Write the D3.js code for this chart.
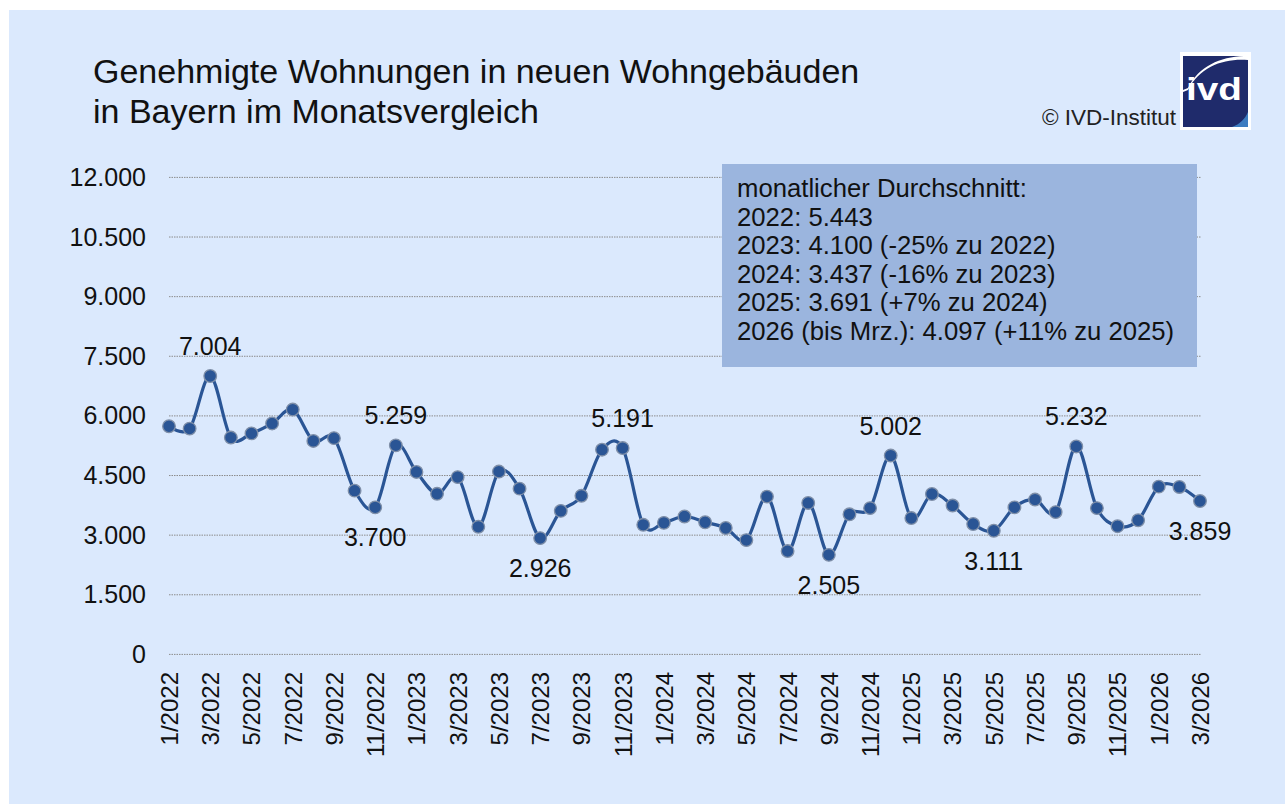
<!DOCTYPE html>
<html>
<head>
<meta charset="utf-8">
<script src="https://cdn.jsdelivr.net/npm/d3@7"></script>
<style>
  body { margin: 0; background: #ffffff; }
  svg { display: block; font-family: "Liberation Sans", Arial, sans-serif; }
</style>
</head>
<body>
<svg id="chart" width="1285" height="804"></svg>
<script>
// months (Jan 2022 - Mar 2026)
const months = [
    "1/2022","2/2022","3/2022","4/2022","5/2022","6/2022","7/2022","8/2022","9/2022","10/2022","11/2022","12/2022",
    "1/2023","2/2023","3/2023","4/2023","5/2023","6/2023","7/2023","8/2023","9/2023","10/2023","11/2023","12/2023",
    "1/2024","2/2024","3/2024","4/2024","5/2024","6/2024","7/2024","8/2024","9/2024","10/2024","11/2024","12/2024",
    "1/2025","2/2025","3/2025","4/2025","5/2025","6/2025","7/2025","8/2025","9/2025","10/2025","11/2025","12/2025",
    "1/2026","2/2026","3/2026"
];

// genehmigte Wohnungen pro Monat
const approvals = [
    5740, 5680, 7004, 5455, 5560, 5810, 6160, 5370, 5440, 4120, 3700, 5259,
    4590, 4040, 4460, 3210, 4600, 4170, 2926, 3610, 3990, 5150, 5191, 3260,
    3310, 3470, 3325, 3180, 2875, 3970, 2600, 3810, 2505, 3525, 3680, 5002,
    3430, 4035, 3745, 3280, 3111, 3700, 3895, 3580, 5232, 3680, 3225, 3375,
    4220, 4212, 3859
];

// which points get a value label and where
const labelled = [
    { month: "3/2022", pos: "above" },
    { month: "11/2022", pos: "below" },
    { month: "12/2022", pos: "above" },
    { month: "7/2023", pos: "below" },
    { month: "11/2023", pos: "above" },
    { month: "9/2024", pos: "below" },
    { month: "12/2024", pos: "above" },
    { month: "5/2025", pos: "below" },
    { month: "9/2025", pos: "above" },
    { month: "3/2026", pos: "below" }
];

const yTicks = [0, 1500, 3000, 4500, 6000, 7500, 9000, 10500, 12000];

const titleLines = ["Genehmigte Wohnungen in neuen Wohngebäuden", "in Bayern im Monatsvergleich"];

const boxLines = [
    "monatlicher Durchschnitt:",
    "2022: 5.443",
    "2023: 4.100 (-25% zu 2022)",
    "2024: 3.437 (-16% zu 2023)",
    "2025: 3.691 (+7% zu 2024)",
    "2026 (bis Mrz.): 4.097 (+11% zu 2025)"
];

const de = d3.formatLocale({ decimal: ",", thousands: ".", grouping: [3], currency: ["", " €"] });
const fmt = de.format(",.0f");

const svg = d3.select("#chart");

// background panel
svg.append("rect")
    .attr("x", 9).attr("y", 10)
    .attr("width", 1276).attr("height", 794)
    .attr("fill", "#dbe9fd");

// title
svg.append("text")
    .attr("x", 93).attr("y", 83)
    .attr("font-size", 34)
    .attr("fill", "#111")
    .selectAll("tspan")
    .data(titleLines)
    .join("tspan")
    .attr("x", 93)
    .attr("dy", (d, i) => i === 0 ? 0 : 40)
    .text(d => d);

// copyright
svg.append("text")
    .attr("x", 1176).attr("y", 125)
    .attr("text-anchor", "end")
    .attr("font-size", 22.5)
    .attr("fill", "#222")
    .text("© IVD-Institut");

// logo
const logo = svg.append("g");
logo.append("rect").attr("x", 1180).attr("y", 52).attr("width", 71).attr("height", 78).attr("fill", "#ffffff");
logo.append("rect").attr("x", 1183).attr("y", 56).attr("width", 65).attr("height", 71).attr("fill", "#1f2b6b");
logo.append("path")
    .attr("d", "M1183,56 L1248,56 L1248,60 C1225,58 1200,66 1188,90 L1183,92 Z")
    .attr("fill", "#ffffff");
logo.append("path")
    .attr("d", "M1183,56 L1244,56 C1220,57 1199,66 1188,88 L1183,90 Z")
    .attr("fill", "#1f2b6b");
logo.append("path")
    .attr("d", "M1248,112 L1248,127 L1232,127 C1240,124 1245,119 1248,112 Z")
    .attr("fill", "#3d7cc0");
logo.append("text")
    .attr("x", 1214).attr("y", 100)
    .attr("text-anchor", "middle")
    .attr("font-size", 31)
    .attr("font-weight", "bold")
    .attr("fill", "#ffffff")
    .attr("textLength", 56)
    .attr("lengthAdjust", "spacingAndGlyphs")
    .text("ivd");

// scales
const x = d3.scalePoint().domain(months).range([169, 1200]);
const y = d3.scaleLinear().domain([0, 12000]).range([654.4, 177.4]);

// grid lines
svg.append("g")
    .selectAll("line")
    .data(yTicks)
    .join("line")
    .attr("x1", 169).attr("x2", 1201)
    .attr("y1", d => y(d)).attr("y2", d => y(d))
    .attr("stroke", "#8c8c8c")
    .attr("stroke-width", 1)
    .attr("stroke-dasharray", "1.5,1");

// y axis labels
const yAxis = svg.append("g")
    .attr("transform", "translate(158,0)")
    .call(d3.axisLeft(y).tickValues(yTicks).tickFormat(fmt).tickSize(0).tickPadding(12));
yAxis.select(".domain").remove();
yAxis.selectAll("text")
    .attr("font-family", "Liberation Sans, Arial, sans-serif")
    .attr("font-size", 25)
    .attr("fill", "#111");

// x axis labels (every second month)
const xAxis = svg.append("g")
    .attr("transform", "translate(0,672)")
    .call(d3.axisBottom(x).tickValues(months.filter((d, i) => i % 2 === 0)).tickSize(0).tickPadding(0));
xAxis.select(".domain").remove();
xAxis.selectAll("text")
    .attr("font-family", "Liberation Sans, Arial, sans-serif")
    .attr("font-size", 24)
    .attr("fill", "#111")
    .attr("text-anchor", "end")
    .attr("transform", "rotate(-90)")
    .attr("x", 0)
    .attr("y", 0)
    .attr("dy", "0.35em");

// info box
svg.append("rect")
    .attr("x", 722).attr("y", 164)
    .attr("width", 475).attr("height", 203)
    .attr("fill", "#9bb5de");
svg.append("text")
    .attr("font-size", 25.7)
    .attr("fill", "#111")
    .selectAll("tspan")
    .data(boxLines)
    .join("tspan")
    .attr("x", 737)
    .attr("y", (d, i) => 197 + i * 28.6)
    .text(d => d);

// line
const data = months.map((m, i) => ({ month: m, value: approvals[i] }));

svg.append("path")
    .datum(data)
    .attr("fill", "none")
    .attr("stroke", "#2a5595")
    .attr("stroke-width", 3.2)
    .attr("d", d3.line()
        .x(d => x(d.month))
        .y(d => y(d.value))
        .curve(d3.curveCardinal));

svg.append("g")
    .selectAll("circle")
    .data(data)
    .join("circle")
    .attr("cx", d => x(d.month))
    .attr("cy", d => y(d.value))
    .attr("r", 6.3)
    .attr("fill", "#2a5595")
    .attr("stroke", "#7f8fa8")
    .attr("stroke-width", 1.3);

// value labels
svg.append("g")
    .selectAll("text")
    .data(labelled)
    .join("text")
    .attr("x", d => x(d.month))
    .attr("y", d => y(approvals[months.indexOf(d.month)]) + (d.pos === "above" ? -21 : 39))
    .attr("text-anchor", "middle")
    .attr("font-size", 25)
    .attr("fill", "#111")
    .text(d => fmt(approvals[months.indexOf(d.month)]));
</script>
</body>
</html>
